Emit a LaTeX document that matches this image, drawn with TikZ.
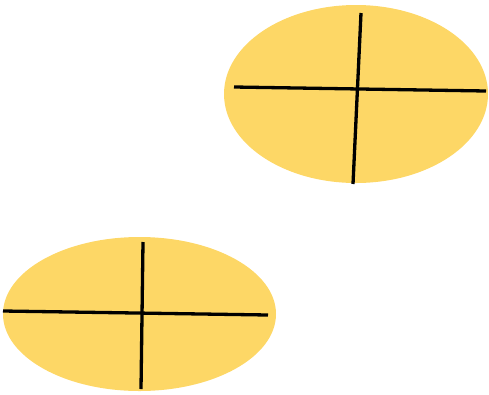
\documentclass[tikz,border=0pt]{standalone}
\usepackage{xcolor}
\usepackage{tikz}
\definecolor{discgold}{HTML}{FDD766}

\begin{document}
\begin{tikzpicture}[
  x=1pt, y=-1pt,
  disc/.style={fill=discgold, draw=none},
  axis/.style={draw=black, line width=3.3pt},
]
  \useasboundingbox (0,0) rectangle (489,394);

  % Upper disc
  \path[disc] (356,94) ellipse [x radius=132, y radius=89];
  \coordinate (ul) at (234,87);
  \coordinate (ur) at (486,91);
  \coordinate (ut) at (361,13);
  \coordinate (ub) at (353,184);
  \draw[axis] (ul) -- (ur);
  \draw[axis] (ut) -- (ub);

  % Lower disc
  \path[disc] (139.5,314) ellipse [x radius=136.5, y radius=77];
  \coordinate (ll) at (3,311);
  \coordinate (lr) at (268,315);
  \coordinate (lt) at (143,242);
  \coordinate (lb) at (141,389);
  \draw[axis] (ll) -- (lr);
  \draw[axis] (lt) -- (lb);
\end{tikzpicture}
\end{document}
